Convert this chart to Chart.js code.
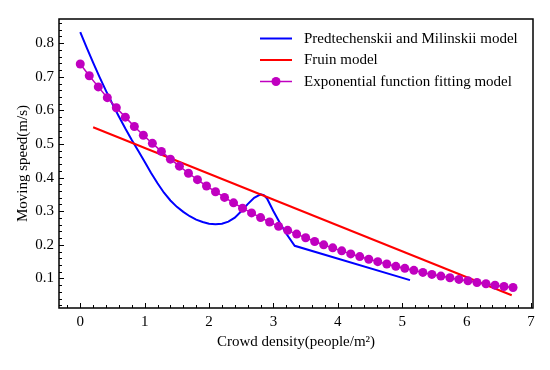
<!DOCTYPE html>
<html><head><meta charset="utf-8">
<script src="https://cdn.jsdelivr.net/npm/chart.js@4.4.1/dist/chart.umd.min.js"></script>
<style>html,body{margin:0;padding:0;background:#fff;}</style>
</head><body>
<canvas id="c" width="550" height="370"></canvas>
<script>
const seriesNames = ['Predtechenskii and Milinskii model', 'Fruin model', 'Exponential function fitting model'];

const pmX = [0,0.1,0.2,0.3,0.4,0.5,0.6,0.7,0.8,0.9,1.0,1.1,1.2,1.3,1.4,1.5,1.6,1.7,1.8,1.9,2.0,2.1,2.2,2.3,2.4,2.5,2.6,2.7,2.8,2.85,2.9,3.0,3.1,3.2,3.33,5.12];
const pmY = [0.833,0.787,0.742,0.699,0.658,0.619,0.582,0.546,0.512,0.480,0.447,0.414,0.383,0.355,0.332,0.313,0.298,0.285,0.275,0.268,0.263,0.261,0.263,0.269,0.281,0.300,0.321,0.340,0.350,0.348,0.338,0.300,0.265,0.233,0.197,0.095];

const fruinX = [0.2, 6.7];
const fruinY = [0.55, 0.05];

const expX = [0,0.14,0.28,0.42,0.56,0.70,0.84,0.98,1.12,1.26,1.40,1.54,1.68,1.82,1.96,2.10,2.24,2.38,2.52,2.66,2.80,2.94,3.08,3.22,3.36,3.50,3.64,3.78,3.92,4.06,4.20,4.34,4.48,4.62,4.76,4.90,5.04,5.18,5.32,5.46,5.60,5.74,5.88,6.02,6.16,6.30,6.44,6.58,6.72];
const expY = [0.738,0.703,0.670,0.638,0.608,0.580,0.552,0.526,0.502,0.478,0.455,0.434,0.413,0.394,0.375,0.358,0.341,0.325,0.309,0.295,0.281,0.268,0.255,0.243,0.232,0.221,0.210,0.200,0.191,0.182,0.173,0.165,0.157,0.150,0.143,0.136,0.130,0.124,0.118,0.112,0.107,0.102,0.097,0.093,0.088,0.084,0.080,0.076,0.073];

const xTicks = [0,1,2,3,4,5,6,7];
const xTickLabels = ['0','1','2','3','4','5','6','7'];
const yTicks = [0.1,0.2,0.3,0.4,0.5,0.6,0.7,0.8];
const yTickLabels = ['0.1','0.2','0.3','0.4','0.5','0.6','0.7','0.8'];

const xTitle = 'Crowd density(people/m\u00B2)';
const yTitle = 'Moving speed(m/s)';

const FONT = '"Liberation Serif","Times New Roman",serif';
const BLUE = '#0000FF', RED = '#FF0000', MAG = '#C000C0';

function pts(xs, ys){ return xs.map((x,i)=>({x:x, y:ys[i]})); }

const decorPlugin = {
  id: 'decor',
  afterDraw(chart){
    const ctx = chart.ctx;
    const a = chart.chartArea;
    const xs = chart.scales.x, ys = chart.scales.y;
    ctx.save();
    ctx.strokeStyle = '#000';
    ctx.lineWidth = 1;
    ctx.beginPath();
    for (let k = -1; k <= 35; k++) {
      const v = k * 0.2;
      if (v < xs.min || v > xs.max) continue;
      const px = Math.round(xs.getPixelForValue(v)) + 0.5;
      const major = (k % 5 === 0);
      ctx.moveTo(px, a.bottom);
      ctx.lineTo(px, a.bottom - (major ? 5 : 3));
    }
    for (let k = 1; k <= 43; k++) {
      const v = k * 0.02;
      if (v < ys.min || v > ys.max) continue;
      const py = Math.round(ys.getPixelForValue(v)) + 0.5;
      const major = (k % 5 === 0);
      ctx.moveTo(a.left, py);
      ctx.lineTo(a.left + (major ? 5 : 3), py);
    }
    ctx.stroke();
    ctx.lineWidth = 1.5;
    ctx.strokeRect(a.left, a.top, a.right - a.left, a.bottom - a.top);
    const rows = [38.5, 60, 81.5];
    ctx.font = '15px ' + FONT;
    ctx.textBaseline = 'middle';
    ctx.textAlign = 'left';
    chart.data.datasets.forEach((ds, i) => {
      const y = rows[i];
      ctx.strokeStyle = ds.borderColor;
      ctx.lineWidth = ds.borderWidth;
      ctx.beginPath();
      ctx.moveTo(260, y);
      ctx.lineTo(292, y);
      ctx.stroke();
      if (ds.pointRadius > 0) {
        ctx.fillStyle = ds.pointBackgroundColor;
        ctx.beginPath();
        ctx.arc(276, y, 4.5, 0, Math.PI * 2);
        ctx.fill();
      }
      ctx.fillStyle = '#000';
      ctx.fillText(ds.label, 304, y + 0.5);
    });
    ctx.restore();
  }
};

new Chart(document.getElementById('c'), {
  type: 'line',
  data: {
    datasets: [
      { label: seriesNames[0], data: pts(pmX, pmY), borderColor: BLUE, backgroundColor: BLUE, borderWidth: 2, pointRadius: 0, tension: 0, fill: false, order: 2 },
      { label: seriesNames[1], data: pts(fruinX, fruinY), borderColor: RED, backgroundColor: RED, borderWidth: 2, pointRadius: 0, tension: 0, fill: false, order: 1 },
      { label: seriesNames[2], data: pts(expX, expY), borderColor: MAG, backgroundColor: MAG, borderWidth: 1.5, pointRadius: 4.5, pointBackgroundColor: MAG, pointBorderColor: MAG, pointBorderWidth: 0, tension: 0, fill: false, order: 0 }
    ]
  },
  options: {
    responsive: false,
    animation: false,
    devicePixelRatio: 1,
    layout: { padding: { left: 0, top: 19, right: 17, bottom: 0 } },
    plugins: { legend: { display: false }, tooltip: { enabled: false } },
    scales: {
      x: {
        type: 'linear', min: -0.33, max: 7.03,
        afterBuildTicks: s => { s.ticks = xTicks.map(v => ({ value: v })); },
        afterFit: s => { s.height = 62; },
        grid: { display: false, drawTicks: false },
        border: { display: false },
        ticks: { padding: 5, color: '#000', font: { family: FONT, size: 15 }, maxRotation: 0, autoSkip: false,
                 callback: (v, i) => xTickLabels[i] },
        title: { display: true, text: xTitle, color: '#000', font: { family: FONT, size: 15 }, padding: { top: 0, bottom: 19 } }
      },
      y: {
        type: 'linear', min: 0.012, max: 0.872,
        afterBuildTicks: s => { s.ticks = yTicks.map(v => ({ value: v })); },
        afterFit: s => { s.width = 59; },
        grid: { display: false, drawTicks: false },
        border: { display: false },
        ticks: { padding: 5, color: '#000', font: { family: FONT, size: 15 }, autoSkip: false,
                 callback: (v, i) => yTickLabels[i] },
        title: { display: true, text: yTitle, color: '#000', font: { family: FONT, size: 15 }, padding: { top: 14, bottom: 0 } }
      }
    }
  },
  plugins: [decorPlugin]
});
</script>
</body></html>
